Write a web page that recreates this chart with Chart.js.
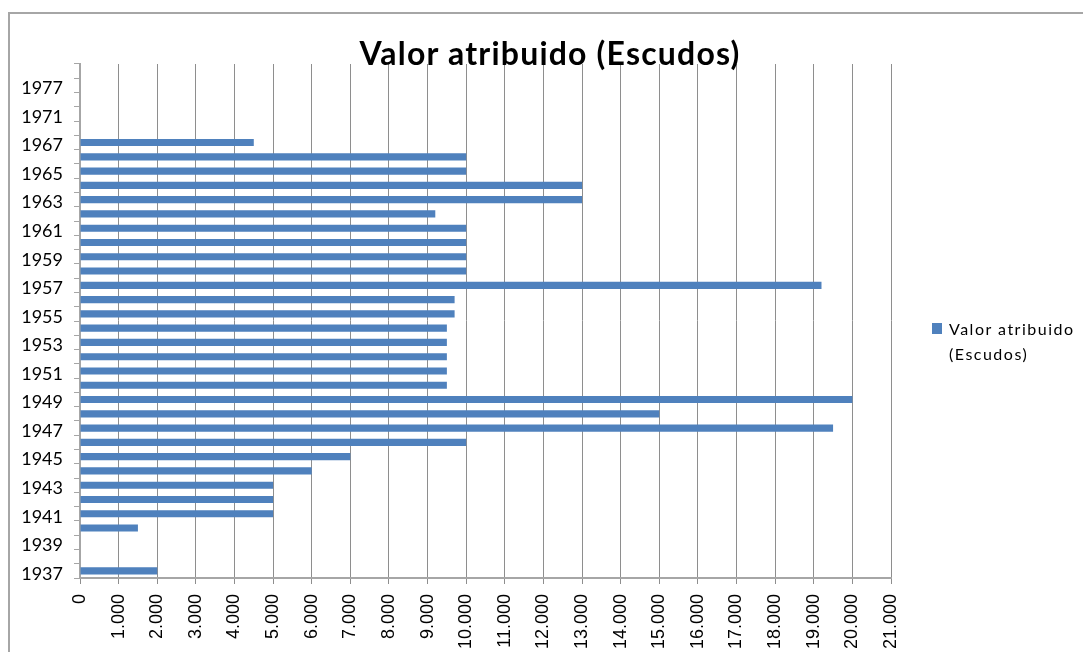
<!DOCTYPE html>
<html>
<head>
<meta charset="utf-8">
<script src="https://cdn.jsdelivr.net/npm/chart.js@4/dist/chart.umd.min.js"></script>
<style>
    html, body { margin: 0; padding: 0; background: #fff; overflow: hidden; }
    #wrap { position: relative; width: 1083px; height: 652px; }
    #frame { position: absolute; left: 8px; top: 12px; width: 1200px; height: 800px;
             border-left: 2px solid #a6a6a6; border-top: 2px solid #a6a6a6; }
    #chart { position: absolute; left: 0; top: 0; }
    #title { position: absolute; left: 0; top: 33px; width: 1100px; text-align: center;
             font: bold 32px Lato, sans-serif; letter-spacing: 1.2px; line-height: 40px; color: #000; }
    #legend { position: absolute; left: 932px; top: 316px; font: 16px Lato, sans-serif;
              letter-spacing: 1.5px; line-height: 25px; color: #000; }
    #legend .box { position: absolute; left: 0; top: 7px; width: 10px; height: 11px; background: #4f81bd; }
    #legend .txt { margin-left: 17px; white-space: nowrap; }
</style>
</head>
<body>
<div id="wrap">
    <div id="frame"></div>
    <canvas id="chart" width="1083" height="652"></canvas>
    <div id="title"></div>
    <div id="legend"><span class="box"></span><div class="txt">Valor atribuido<br>(Escudos)</div></div>
</div>
<script>
// Categories (bottom to top) and values
const years = ['1937', '1938', '1939', '1940', '1941', '1942', '1943', '1944', '1945', '1946',
    '1947', '1948', '1949', '1950', '1951', '1952', '1953', '1954', '1955', '1956',
    '1957', '1958', '1959', '1960', '1961', '1962', '1963', '1964', '1965', '1966',
    '1967', '1969', '1971', '1975', '1977', '1979'];
const valores = [2000, null, null, 1500, 5000, 5000, 5000, 6000, 7000, 10000,
    19500, 15000, 20000, 9500, 9500, 9500, 9500, 9500, 9700, 9700,
    19200, 10000, 10000, 10000, 10000, 9200, 13000, 13000, 10000, 10000,
    4500, null, null, null, null, null];
const seriesName = 'Valor atribuido (Escudos)';
const xMax = 21000;
const xStep = 1000;

function fmtThousands(v) {
    return String(v).replace(/\B(?=(\d{3})+(?!\d))/g, '.');
}

// title sits over the whole frame, not just the plot, so it's a plain div
document.getElementById('title').textContent = seriesName;

const ctx = document.getElementById('chart').getContext('2d');
new Chart(ctx, {
    type: 'bar',
    data: {
        labels: years,
        datasets: [{
            label: seriesName,
            data: valores,
            backgroundColor: '#4f81bd',
            borderWidth: 0,
            barPercentage: 0.5,
            categoryPercentage: 1
        }]
    },
    options: {
        indexAxis: 'y',
        responsive: false,
        animation: false,
        layout: { padding: { left: 17, right: 192, top: 64, bottom: 0 } },
        plugins: {
            legend: { display: false },
            tooltip: { enabled: false },
            title: { display: false }
        },
        scales: {
            x: {
                min: 0,
                max: xMax,
                grid: { color: '#8e8e8e', lineWidth: 1, tickLength: 6, drawTicks: true },
                border: { color: '#a6a6a6', width: 2 },
                ticks: {
                    stepSize: xStep,
                    minRotation: 90,
                    maxRotation: 90,
                    padding: 10,
                    color: '#000',
                    font: { family: 'Liberation Sans', size: 18 },
                    callback: (v) => fmtThousands(v)
                },
                afterFit: (scale) => { scale.height = 74; }
            },
            y: {
                reverse: true,
                offset: true,
                grid: { offset: true, drawOnChartArea: false, tickLength: 6, color: '#a6a6a6' },
                border: { color: '#a6a6a6', width: 2 },
                ticks: {
                    autoSkip: false,
                    padding: 11,
                    labelOffset: 3,
                    color: '#000',
                    font: { family: 'Lato', size: 18 },
                    callback: function (v, i) { return i % 2 === 0 ? this.getLabelForValue(v) : ''; }
                },
                afterFit: (scale) => { scale.width = 63; }
            }
        }
    }
});
</script>
</body>
</html>
